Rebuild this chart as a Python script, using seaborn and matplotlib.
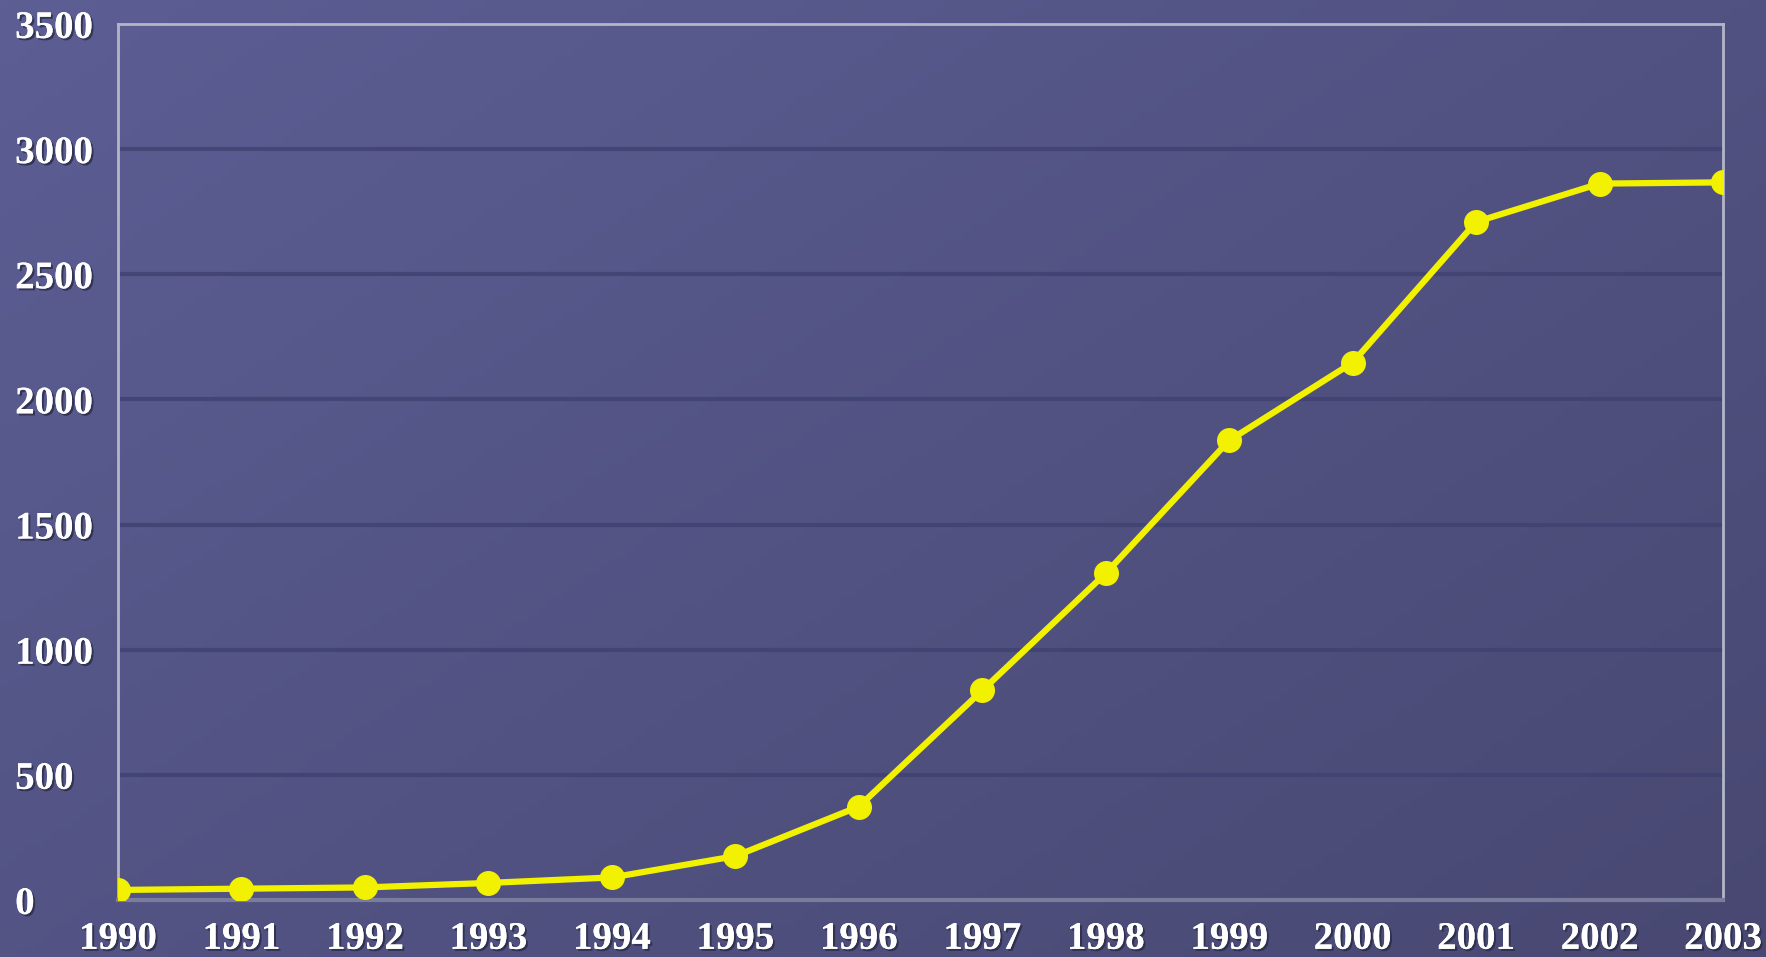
import numpy as np
import pandas as pd
import seaborn as sns
import matplotlib.pyplot as plt
import matplotlib.patheffects as pe

years = [1990, 1991, 1992, 1993, 1994, 1995, 1996, 1997, 1998, 1999, 2000, 2001, 2002, 2003]
values = [40, 45, 50, 68, 90, 175, 373, 837, 1305, 1836, 2147, 2709, 2862, 2867]
y_ticks = [0, 500, 1000, 1500, 2000, 2500, 3000, 3500]

df = pd.DataFrame({"year": years, "value": values})

sns.set_theme(style="white")
plt.rcParams['font.family'] = ['Liberation Serif', 'DejaVu Serif']

fig = plt.figure(figsize=(17.66, 9.57), dpi=100)

# background gradient
bg = fig.add_axes([0, 0, 1, 1], zorder=-1)
gx, gy = np.meshgrid(np.linspace(0, 1, 200), np.linspace(0, 1, 120))
t = 0.55 * gx + 0.45 * gy
c0 = np.array([92, 94, 148]) / 255
c1 = np.array([72, 72, 114]) / 255
img = c0[None, None, :] * (1 - t[..., None]) + c1[None, None, :] * t[..., None]
bg.imshow(img, aspect='auto', extent=[0, 1, 0, 1])
bg.axis('off')

ax = fig.add_axes([0.0668, 0.0596, 0.9089, 0.9154])
ax.set_facecolor('none')

for y in y_ticks[1:-1]:
    ax.axhline(y, color='#3f4170', lw=3, alpha=0.8, zorder=1)

sns.lineplot(data=df, x="year", y="value", ax=ax, color='#f2f200', lw=4.5,
             marker='o', markersize=18, markeredgewidth=0, zorder=5)

ax.set_xlim(1990, 2003)
ax.set_ylim(0, 3500)
ax.set_xticks(years)
ax.set_yticks(y_ticks)
ax.set_xlabel('')
ax.set_ylabel('')

shadow = [pe.withSimplePatchShadow(offset=(1.5, -1.5), shadow_rgbFace='#2a2b45', alpha=0.8), pe.Normal()]
ax.tick_params(axis='x', colors='#8a8ca8', length=6, width=1.5, direction='out', pad=9,
               labelsize=28, labelcolor='white')
ax.tick_params(axis='y', colors='#3f4170', length=8, width=3, direction='out', pad=66,
               labelsize=28, labelcolor='white')
for lab in ax.get_yticklabels():
    lab.set_horizontalalignment('left')
for lab in ax.get_xticklabels() + ax.get_yticklabels():
    lab.set_fontweight('bold')
    lab.set_path_effects(shadow)

for side in ['left', 'top', 'right']:
    ax.spines[side].set_color('#b4b6c8')
    ax.spines[side].set_linewidth(2)
ax.spines['bottom'].set_color('#7a7c9c')
ax.spines['bottom'].set_linewidth(3)

plt.savefig('out.png', dpi=100)
